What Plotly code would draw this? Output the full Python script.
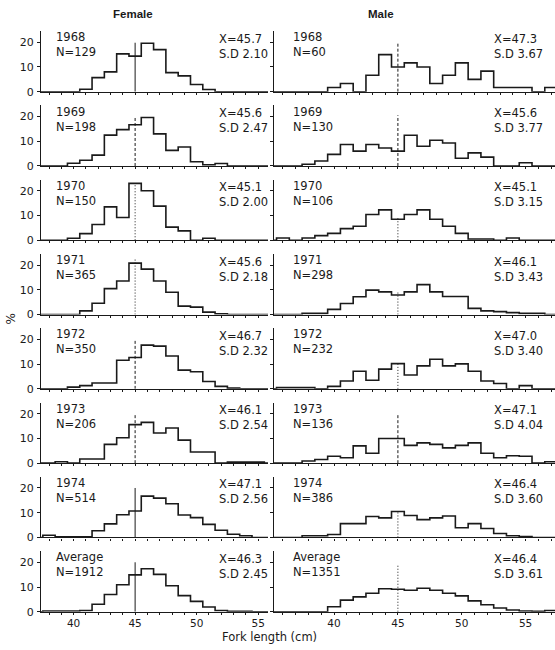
import plotly.graph_objects as go

# ---------------------------------------------------------------------------
# Length-frequency data (% of fish per 1-cm fork-length class)
# ---------------------------------------------------------------------------
PANELS = ["1968", "1969", "1970", "1971", "1972", "1973", "1974", "Average"]

FEMALE_N = [129, 198, 150, 365, 350, 206, 514, 1912]
FEMALE_MEAN = [45.7, 45.6, 45.1, 45.6, 46.7, 46.1, 47.1, 46.3]
FEMALE_SD = [2.10, 2.47, 2.00, 2.18, 2.32, 2.54, 2.56, 2.45]

MALE_N = [60, 130, 106, 298, 232, 136, 386, 1351]
MALE_MEAN = [47.3, 45.6, 45.1, 46.1, 47.0, 47.1, 46.4, 46.4]
MALE_SD = [3.67, 3.77, 3.15, 3.43, 3.40, 4.04, 3.60, 3.61]

# centre (cm) of the first length class in each series below
FEMALE_FIRST_CLASS = [41, 40, 40, 41, 40, 38, 38, 38]
MALE_FIRST_CLASS = [40, 38, 36, 38, 36, 38, 38, 40]

F1968 = [1.0, 5.7, 8.0, 15.3, 14.4, 19.6, 17.0, 7.7, 6.4, 2.9, 0.9]
F1969 = [1.1, 2.3, 4.4, 12.5, 14.7, 16.7, 19.6, 13.0, 6.3, 7.7, 1.7, 0.5, 1.0]
F1970 = [0.8, 2.7, 6.4, 13.5, 9.2, 23.0, 20.0, 13.8, 5.3, 3.8, 0.0, 0.8]
F1971 = [1.5, 4.6, 10.5, 13.6, 20.8, 18.4, 13.6, 9.0, 3.4, 3.0, 1.0, 0.3]
F1972 = [0.7, 1.3, 2.4, 2.4, 11.6, 12.7, 17.7, 17.3, 13.3, 7.6, 6.9, 3.0, 1.0, 0.3]
F1973 = [0.0, 0.6, 0.0, 1.7, 1.7, 7.6, 10.3, 15.6, 16.5, 12.2, 14.2, 9.3, 4.5, 4.5,
         0.0, 0.4, 0.4, 0.4]
F1974 = [0.9, 0.3, 0.3, 0.3, 2.7, 5.5, 9.2, 10.7, 16.7, 15.9, 13.6, 9.1, 8.0, 5.3,
         2.9, 1.3, 0.7]
FAVG = [0.3, 0.3, 0.3, 0.5, 3.0, 7.0, 10.9, 14.9, 17.4, 15.1, 10.5, 6.5, 4.2, 1.9,
        0.5, 0.2, 0.2]

M1968 = [1.67, 3.33, 0.0, 6.67, 15.0, 10.0, 11.67, 10.0, 3.33, 6.67, 11.67, 5.0,
         8.33, 1.67, 1.67, 1.67, 0.0, 1.67]
M1969 = [0.7, 2.0, 4.7, 8.7, 6.0, 8.7, 7.3, 6.0, 12.4, 8.0, 10.4, 9.3, 3.1, 5.3,
         3.6, 0.0, 0.0, 1.3]
M1970 = [0.9, 0.0, 0.9, 1.9, 2.8, 4.7, 5.7, 10.4, 12.3, 8.5, 10.4, 12.3, 8.5, 5.7,
         2.8, 0.5, 0.5, 0.0, 0.9]
M1971 = [0.5, 0.5, 2.1, 4.5, 7.2, 9.9, 9.2, 7.9, 9.2, 12.1, 9.2, 7.3, 7.3, 2.5,
         1.5, 1.2, 0.8, 0.5, 0.5]
M1972 = [0.5, 0.5, 0.5, 0.0, 1.0, 3.2, 7.1, 3.5, 8.0, 10.2, 5.6, 9.3, 12.0, 9.3,
         10.1, 7.1, 3.2, 2.2, 0.0, 1.3]
M1973 = [0.9, 1.5, 2.8, 2.2, 7.0, 4.0, 10.0, 10.0, 7.2, 8.2, 7.6, 6.2, 7.2, 8.2,
         4.0, 2.2, 3.0, 2.8, 0.0, 0.6]
M1974 = [0.7, 0.7, 1.2, 5.6, 5.6, 8.5, 7.9, 10.5, 8.9, 7.2, 7.9, 8.7, 3.9, 5.6,
         3.6, 1.6, 0.7, 0.4]
MAVG = [2.0, 4.7, 6.0, 7.5, 9.3, 9.1, 8.7, 9.5, 8.7, 7.5, 6.4, 4.4, 2.8, 1.5,
        0.7, 0.3, 0.2, 0.5]

FEMALE = [F1968, F1969, F1970, F1971, F1972, F1973, F1974, FAVG]
MALE = [M1968, M1969, M1970, M1971, M1972, M1973, M1974, MAVG]

X_TICKS = [40, 45, 50, 55]
Y_TICKS = [0, 10, 20]
REF_LENGTH = 45

# ---------------------------------------------------------------------------
# Page geometry (pixels)
# ---------------------------------------------------------------------------
W, H = 555, 650
INK = "#1a1a1a"
FONT = "DejaVu Sans"

Y_MAX = 24.5
PX_PER_PCT = 2.5
BASE0 = 92.7          # baseline of first row
ROW_STEP = 75.1       # distance between rows

COLS = {
    "F": dict(left=41, right=268, xr=[37.35, 55.8]),
    "M": dict(left=274, right=555, xr=[35.3, 57.3]),
}

DASHED = "3px,2px"
DOTTED = "1px,2px"
# reference-line looks per panel: (top in %, dash)
F_REF = [(19.8, "solid"), (20, DASHED), (23, DOTTED), (23, DOTTED),
         (20, DASHED), (19.6, DASHED), (20, "solid"), (20, "solid")]
M_REF = [(20, DASHED), (20.5, DASHED), (9, DOTTED), (9, DOTTED),
         (10, DOTTED), (19.6, DASHED), (10.5, DOTTED), (19, DOTTED)]


def step_xy(first, vals, xr):
    edges = [first - 0.5 + i for i in range(len(vals) + 1)]
    xs = [xr[0]] + edges + [xr[1]]
    ys = [0] + list(vals) + [0, 0]
    return xs, ys


fig = go.Figure()
layout = dict(
    width=W, height=H,
    margin=dict(l=0, r=0, t=0, b=0),
    paper_bgcolor="white", plot_bgcolor="white",
    showlegend=False,
    font=dict(family=FONT, color=INK, size=12),
)
annotations = []
shapes = []

for row in range(8):
    base = BASE0 + ROW_STEP * row
    top = base - Y_MAX * PX_PER_PCT
    ydom = [1 - base / H, 1 - top / H]
    for side in ("F", "M"):
        n_ax = 2 * row + (1 if side == "F" else 2)
        xa = "x" if n_ax == 1 else f"x{n_ax}"
        ya = "y" if n_ax == 1 else f"y{n_ax}"
        col = COLS[side]
        xdom = [col["left"] / W, min(col["right"] / W, 1.0)]
        bottom = row == 7

        if side == "F":
            vals, first = FEMALE[row], FEMALE_FIRST_CLASS[row]
            n, mean, sd = FEMALE_N[row], FEMALE_MEAN[row], FEMALE_SD[row]
            ref_top, ref_dash = F_REF[row]
            tx_left, tx_right = 38.4, 51.66
        else:
            vals, first = MALE[row], MALE_FIRST_CLASS[row]
            n, mean, sd = MALE_N[row], MALE_MEAN[row], MALE_SD[row]
            ref_top, ref_dash = M_REF[row]
            tx_left, tx_right = 36.63, 52.37

        xs, ys = step_xy(first, vals, col["xr"])
        fig.add_trace(go.Scatter(
            x=xs, y=ys, mode="lines", line_shape="hv",
            line=dict(color=INK, width=1.6),
            xaxis=xa, yaxis=ya, hoverinfo="skip", cliponaxis=False,
        ))

        tick_text = [str(v) if (bottom and v in X_TICKS) else ""
                     for v in range(36, 58)]
        layout[f"xaxis{n_ax}"] = dict(
            domain=xdom, range=col["xr"], anchor=ya,
            showline=True, linecolor=INK, linewidth=1.3,
            showgrid=False, zeroline=False,
            tickmode="array", tickvals=list(range(36, 58)), ticktext=tick_text,
            ticks="outside", ticklen=2, tickwidth=1, tickcolor=INK,
            tickfont=dict(family=FONT, size=10.5, color=INK),
            ticklabelstandoff=0,
            fixedrange=True,
        )
        layout[f"yaxis{n_ax}"] = dict(
            domain=ydom, range=[0, Y_MAX], anchor=xa,
            showline=True, linecolor=INK, linewidth=1.3,
            showgrid=False, zeroline=False,
            tickmode="array", tickvals=Y_TICKS,
            showticklabels=(side == "F"),
            ticks="outside", ticklen=3, tickwidth=1.2, tickcolor=INK,
            tickfont=dict(family=FONT, size=11, color=INK),
            ticklabelstandoff=1,
            fixedrange=True,
        )

        shapes.append(dict(
            type="line", xref=xa, yref=ya,
            x0=REF_LENGTH, x1=REF_LENGTH, y0=0, y1=ref_top,
            line=dict(color=INK, width=1, dash=ref_dash),
        ))

        label = PANELS[row]
        for text, x, y in [
            (f"{label}<br>N={n}", tx_left, 19.0),
            (f"X={mean:.1f}<br>S.D {sd:.2f}", tx_right, 18.4),
        ]:
            annotations.append(dict(
                text=text, xref=xa, yref=ya, x=x, y=y, align="left",
                xanchor="left", yanchor="middle", showarrow=False,
                font=dict(family=FONT, size=11.5, color=INK),
            ))

annotations += [
    dict(text="<b>Female</b>", xref="paper", yref="paper",
         x=133 / W, y=1 - 14 / H, xanchor="center", yanchor="middle",
         showarrow=False,
         font=dict(family="Liberation Sans", size=11.5, color=INK)),
    dict(text="<b>Male</b>", xref="paper", yref="paper",
         x=381 / W, y=1 - 14 / H, xanchor="center", yanchor="middle",
         showarrow=False,
         font=dict(family="Liberation Sans", size=11.5, color=INK)),
    dict(text="Fork length (cm)", xref="paper", yref="paper",
         x=269 / W, y=-2 / H, xanchor="center", yanchor="bottom",
         showarrow=False, borderpad=0,
         font=dict(family=FONT, size=11.5, color=INK)),
    dict(text="%", xref="paper", yref="paper", textangle=-90,
         x=11 / W, y=1 - 323 / H, xanchor="center", yanchor="middle",
         showarrow=False,
         font=dict(family=FONT, size=12, color=INK)),
]

layout["annotations"] = annotations
layout["shapes"] = shapes
fig.update_layout(**layout)
fig.write_html("out.html")
